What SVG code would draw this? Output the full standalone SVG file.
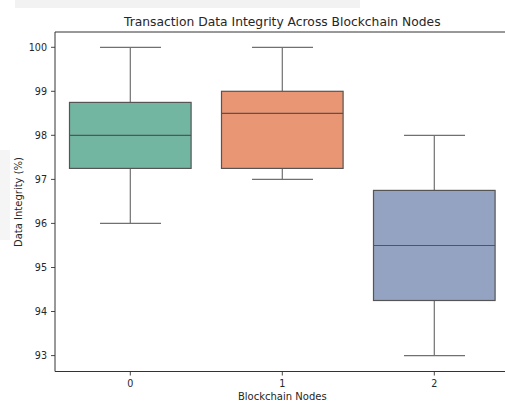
<svg xmlns="http://www.w3.org/2000/svg" width="505" height="402" viewBox="0 0 505 402">
<style>
text{font-family:"DejaVu Sans","Liberation Sans",sans-serif;fill:#262626}
.tick{font-size:9.6px}
.lab{font-size:10px}
.title{font-size:12.3px}
.box{stroke:#555;stroke-width:1.2}
.wh{stroke:#707070;stroke-width:1.2;fill:none}
.med{stroke:#555;stroke-width:1.2}
.spine{stroke:#333;stroke-width:1}
.tk{stroke:#333;stroke-width:0.9}
</style>
<rect x="0" y="0" width="505" height="402" fill="#fff"/>
<g id="background" opacity="0.5">
<rect x="15" y="0" width="345" height="8" fill="#e6e6e6"/>
<rect x="0" y="150" width="10" height="90" fill="#ececec"/>
</g>
<g id="axes">
<line class="spine" x1="55" y1="32" x2="505" y2="32"/>
<line class="spine" x1="55" y1="32" x2="55" y2="371.5"/>
<line class="spine" x1="55" y1="371.5" x2="505" y2="371.5"/>
<g id="yticks">
<line class="tk" x1="51" y1="47.3" x2="55" y2="47.3"/>
<line class="tk" x1="51" y1="91.3" x2="55" y2="91.3"/>
<line class="tk" x1="51" y1="135.3" x2="55" y2="135.3"/>
<line class="tk" x1="51" y1="179.4" x2="55" y2="179.4"/>
<line class="tk" x1="51" y1="223.4" x2="55" y2="223.4"/>
<line class="tk" x1="51" y1="267.5" x2="55" y2="267.5"/>
<line class="tk" x1="51" y1="311.5" x2="55" y2="311.5"/>
<line class="tk" x1="51" y1="355.6" x2="55" y2="355.6"/>
<text class="tick" x="47" y="50.8" text-anchor="end">100</text>
<text class="tick" x="47" y="94.8" text-anchor="end">99</text>
<text class="tick" x="47" y="138.8" text-anchor="end">98</text>
<text class="tick" x="47" y="182.9" text-anchor="end">97</text>
<text class="tick" x="47" y="226.9" text-anchor="end">96</text>
<text class="tick" x="47" y="271" text-anchor="end">95</text>
<text class="tick" x="47" y="315" text-anchor="end">94</text>
<text class="tick" x="47" y="359.1" text-anchor="end">93</text>
</g>
<g id="xticks">
<line class="tk" x1="130.3" y1="371.5" x2="130.3" y2="375.5"/>
<line class="tk" x1="282.3" y1="371.5" x2="282.3" y2="375.5"/>
<line class="tk" x1="434.3" y1="371.5" x2="434.3" y2="375.5"/>
<text class="tick" x="130.3" y="387" text-anchor="middle">0</text>
<text class="tick" x="282.3" y="387" text-anchor="middle">1</text>
<text class="tick" x="434.3" y="387" text-anchor="middle">2</text>
</g>
<text class="lab" x="282.3" y="400" text-anchor="middle">Blockchain Nodes</text>
<text class="lab" x="0" y="0" text-anchor="middle" transform="translate(21.5,202) rotate(-90)">Data Integrity (%)</text>
<text class="title" x="282.3" y="26" text-anchor="middle">Transaction Data Integrity Across Blockchain Nodes</text>
</g>
<g id="connectors">
<path class="wh" d="M130.3 102.4V47.3M100 47.3H161M130.3 168.4V223.4M100 223.4H161"/>
<path class="wh" d="M282.3 91.3V47.3M252 47.3H313M282.3 168.4V179.4M252 179.4H313"/>
<path class="wh" d="M434.3 190.4V135.3M404 135.3H465M434.3 300.5V355.6M404 355.6H465"/>
</g>
<g id="node0">
<rect class="box" x="69.5" y="102.4" width="121.6" height="66" fill="#72b6a1"/>
<line class="med" x1="69.5" y1="135.3" x2="191.1" y2="135.3"/>
</g>
<g id="node1">
<rect class="box" x="221.5" y="91.3" width="121.6" height="77.1" fill="#e99675"/>
<line class="med" x1="221.5" y1="113.3" x2="343.1" y2="113.3"/>
</g>
<g id="node2">
<rect class="box" x="373.5" y="190.4" width="121.6" height="110.1" fill="#95a3c3"/>
<line class="med" x1="373.5" y1="245.5" x2="495.1" y2="245.5"/>
</g>
</svg>
